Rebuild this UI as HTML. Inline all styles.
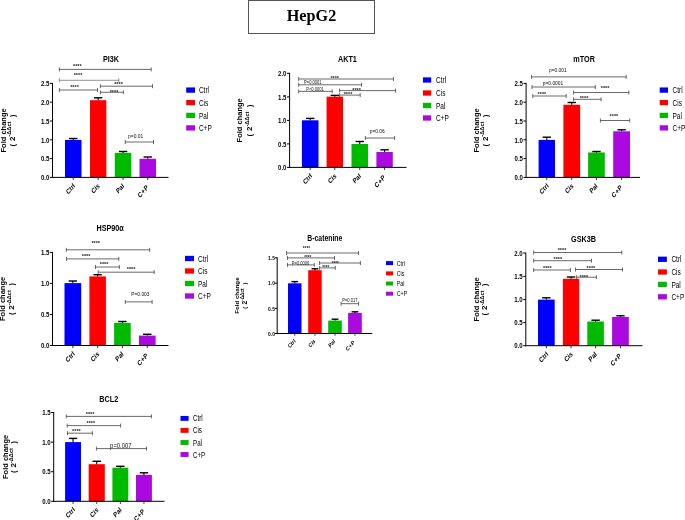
<!DOCTYPE html>
<html><head><meta charset="utf-8"><title>HepG2</title>
<style>
html,body{margin:0;padding:0;background:#fff;}
body{width:685px;height:520px;overflow:hidden;position:relative;font-family:"Liberation Sans",sans-serif;}
#hd{position:absolute;left:248px;top:0px;width:127px;height:34px;border:1px solid #555;box-sizing:border-box;will-change:transform;
 font-family:"Liberation Serif",serif;font-weight:bold;font-size:16.2px;text-align:center;line-height:30.5px;color:#000;}
svg{position:absolute;left:0;top:0;will-change:transform;}
svg text{font-family:"Liberation Sans",sans-serif;}
</style></head><body>
<div id="hd">HepG2</div>
<svg width="685" height="520" viewBox="0 0 685 520">
<rect x="65" y="139.9" width="16.5" height="37.5" fill="#0000ff"/>
<rect x="90" y="100.2" width="16.3" height="77.2" fill="#ff0000"/>
<rect x="114.8" y="152.9" width="16.5" height="24.5" fill="#00ba00"/>
<rect x="139.5" y="158.8" width="16.5" height="18.6" fill="#aa0ae0"/>
<path d="M73.25 139.9V138.5" stroke="#000" stroke-width="1.1" fill="none"/><path d="M69.05 138.5H77.45" stroke="#000" stroke-width="1.4" fill="none"/>
<path d="M98.15 100.2V97.8" stroke="#000" stroke-width="1.1" fill="none"/><path d="M93.95 97.8H102.35" stroke="#000" stroke-width="1.4" fill="none"/>
<path d="M123.05 152.9V151.5" stroke="#000" stroke-width="1.1" fill="none"/><path d="M118.85 151.5H127.25" stroke="#000" stroke-width="1.4" fill="none"/>
<path d="M147.75 158.8V157" stroke="#000" stroke-width="1.1" fill="none"/><path d="M143.55 157H151.95" stroke="#000" stroke-width="1.4" fill="none"/>
<path d="M52.5 83.4V177.4M52.5 177.4H168" stroke="#000" stroke-width="1" fill="none" stroke-linecap="square"/>
<path d="M49.9 83.4H52.5" stroke="#000" stroke-width="1"/>
<text transform="translate(49.4 86.14) scale(0.8 1)" font-size="7.6" font-weight="bold" text-anchor="end" fill="#000">2.5</text>
<path d="M49.9 102.2H52.5" stroke="#000" stroke-width="1"/>
<text transform="translate(49.4 104.94) scale(0.8 1)" font-size="7.6" font-weight="bold" text-anchor="end" fill="#000">2.0</text>
<path d="M49.9 121H52.5" stroke="#000" stroke-width="1"/>
<text transform="translate(49.4 123.74) scale(0.8 1)" font-size="7.6" font-weight="bold" text-anchor="end" fill="#000">1.5</text>
<path d="M49.9 139.8H52.5" stroke="#000" stroke-width="1"/>
<text transform="translate(49.4 142.54) scale(0.8 1)" font-size="7.6" font-weight="bold" text-anchor="end" fill="#000">1.0</text>
<path d="M49.9 158.6H52.5" stroke="#000" stroke-width="1"/>
<text transform="translate(49.4 161.34) scale(0.8 1)" font-size="7.6" font-weight="bold" text-anchor="end" fill="#000">0.5</text>
<path d="M49.9 177.4H52.5" stroke="#000" stroke-width="1"/>
<text transform="translate(49.4 180.14) scale(0.8 1)" font-size="7.6" font-weight="bold" text-anchor="end" fill="#000">0.0</text>
<path d="M73.25 177.4V180" stroke="#000" stroke-width="0.8"/>
<text transform="translate(75.55 186.3) scale(0.82 1) rotate(-43)" font-size="7.1" font-weight="bold" text-anchor="end">Ctrl</text>
<path d="M98.15 177.4V180" stroke="#000" stroke-width="0.8"/>
<text transform="translate(100.15 186.5) scale(0.82 1) rotate(-43)" font-size="7.1" font-weight="bold" text-anchor="end">Cis</text>
<path d="M123.05 177.4V180" stroke="#000" stroke-width="0.8"/>
<text transform="translate(124.65 186.6) scale(0.82 1) rotate(-43)" font-size="7.1" font-weight="bold" text-anchor="end">Pal</text>
<path d="M147.75 177.4V180" stroke="#000" stroke-width="0.8"/>
<text transform="translate(149.05 187.9) scale(0.82 1) rotate(-43)" font-size="7.1" font-weight="bold" text-anchor="end" letter-spacing="0.35">C+P</text>
<text transform="translate(111 61.95) scale(0.78 1)" font-size="9.3" font-weight="bold" text-anchor="middle" fill="#000">PI3K</text>
<text transform="translate(5.7 130.4) rotate(-90)" font-size="7.5" font-weight="bold" text-anchor="middle" fill="#000">Fold change</text>
<text transform="translate(14.6 130.4) rotate(-90)" font-size="7" font-weight="bold" text-anchor="middle" fill="#000">( <tspan font-size="8" dx="0.8">2</tspan><tspan font-size="5.7" dy="-3.3">-ΔΔct</tspan><tspan dy="3.3" dx="4.6">)</tspan></text>
<path d="M59.4 69.4H151.2M59.4 67.4V71.4M151.2 67.4V71.4" stroke="#444" stroke-width="0.8" fill="none"/>
<text transform="translate(77.3 68.35) scale(0.95 1)" font-size="5.8" font-weight="bold" text-anchor="middle" fill="#222">****</text>
<path d="M59.4 80.3H118.8M59.4 78.3V82.3M118.8 78.3V82.3" stroke="#777" stroke-width="0.8" fill="none"/>
<text transform="translate(78 77.05) scale(0.95 1)" font-size="5.8" font-weight="bold" text-anchor="middle" fill="#222">****</text>
<path d="M59.4 90H97.5M59.4 88V92M97.5 88V92" stroke="#444" stroke-width="0.8" fill="none"/>
<text transform="translate(74.5 88.55) scale(0.95 1)" font-size="5.8" font-weight="bold" text-anchor="middle" fill="#222">****</text>
<path d="M100.4 86.2H152.5M100.4 84.2V88.2M152.5 84.2V88.2" stroke="#444" stroke-width="0.8" fill="none"/>
<text transform="translate(118.5 86.45) scale(0.95 1)" font-size="5.8" font-weight="bold" text-anchor="middle" fill="#222">****</text>
<path d="M100.4 92.3H123.4M100.4 90.3V94.3M123.4 90.3V94.3" stroke="#444" stroke-width="0.8" fill="none"/>
<text transform="translate(114 93.85) scale(0.95 1)" font-size="5.8" font-weight="bold" text-anchor="middle" fill="#222">****</text>
<path d="M125.3 142H153.5M125.3 140V144M153.5 140V144" stroke="#444" stroke-width="0.8" fill="none"/>
<text transform="translate(135.6 138.09) scale(0.84 1)" font-size="5.8" font-weight="normal" text-anchor="middle" fill="#111">p=0.01</text>
<rect x="186.2" y="87.45" width="8.8" height="5.3" fill="#0000ff"/>
<text transform="translate(198.9 93.27) scale(0.74 1)" font-size="8.8" font-weight="normal" text-anchor="start" fill="#000">Ctrl</text>
<rect x="186.2" y="99.95" width="8.8" height="5.3" fill="#ff0000"/>
<text transform="translate(198.9 105.77) scale(0.74 1)" font-size="8.8" font-weight="normal" text-anchor="start" fill="#000">Cis</text>
<rect x="186.2" y="112.75" width="8.8" height="5.3" fill="#00ba00"/>
<text transform="translate(198.9 118.57) scale(0.74 1)" font-size="8.8" font-weight="normal" text-anchor="start" fill="#000">Pal</text>
<rect x="186.2" y="125.25" width="8.8" height="5.3" fill="#aa0ae0"/>
<text transform="translate(198.9 131.07) scale(0.74 1)" font-size="8.8" font-weight="normal" text-anchor="start" fill="#000">C+P</text>
<rect x="301.9" y="120.3" width="16.6" height="47.1" fill="#0000ff"/>
<rect x="326.6" y="96.7" width="16.4" height="70.7" fill="#ff0000"/>
<rect x="351.5" y="144" width="16.5" height="23.4" fill="#00ba00"/>
<rect x="376.4" y="152" width="16.4" height="15.4" fill="#aa0ae0"/>
<path d="M310.2 120.3V118.4" stroke="#000" stroke-width="1.1" fill="none"/><path d="M306 118.4H314.4" stroke="#000" stroke-width="1.4" fill="none"/>
<path d="M334.8 96.7V95.4" stroke="#000" stroke-width="1.1" fill="none"/><path d="M330.6 95.4H339" stroke="#000" stroke-width="1.4" fill="none"/>
<path d="M359.75 144V141.5" stroke="#000" stroke-width="1.1" fill="none"/><path d="M355.55 141.5H363.95" stroke="#000" stroke-width="1.4" fill="none"/>
<path d="M384.6 152V149.8" stroke="#000" stroke-width="1.1" fill="none"/><path d="M380.4 149.8H388.8" stroke="#000" stroke-width="1.4" fill="none"/>
<path d="M289.6 73.3V167.4M289.6 167.4H406" stroke="#000" stroke-width="1" fill="none" stroke-linecap="square"/>
<path d="M287 73.3H289.6" stroke="#000" stroke-width="1"/>
<text transform="translate(286.5 76.04) scale(0.8 1)" font-size="7.6" font-weight="bold" text-anchor="end" fill="#000">2.0</text>
<path d="M287 96.9H289.6" stroke="#000" stroke-width="1"/>
<text transform="translate(286.5 99.64) scale(0.8 1)" font-size="7.6" font-weight="bold" text-anchor="end" fill="#000">1.5</text>
<path d="M287 120.4H289.6" stroke="#000" stroke-width="1"/>
<text transform="translate(286.5 123.14) scale(0.8 1)" font-size="7.6" font-weight="bold" text-anchor="end" fill="#000">1.0</text>
<path d="M287 143.9H289.6" stroke="#000" stroke-width="1"/>
<text transform="translate(286.5 146.64) scale(0.8 1)" font-size="7.6" font-weight="bold" text-anchor="end" fill="#000">0.5</text>
<path d="M287 167.4H289.6" stroke="#000" stroke-width="1"/>
<text transform="translate(286.5 170.14) scale(0.8 1)" font-size="7.6" font-weight="bold" text-anchor="end" fill="#000">0.0</text>
<path d="M310.2 167.4V170" stroke="#000" stroke-width="0.8"/>
<text transform="translate(312.5 176.3) scale(0.82 1) rotate(-43)" font-size="7.1" font-weight="bold" text-anchor="end">Ctrl</text>
<path d="M334.8 167.4V170" stroke="#000" stroke-width="0.8"/>
<text transform="translate(336.8 176.5) scale(0.82 1) rotate(-43)" font-size="7.1" font-weight="bold" text-anchor="end">Cis</text>
<path d="M359.75 167.4V170" stroke="#000" stroke-width="0.8"/>
<text transform="translate(361.35 176.6) scale(0.82 1) rotate(-43)" font-size="7.1" font-weight="bold" text-anchor="end">Pal</text>
<path d="M384.6 167.4V170" stroke="#000" stroke-width="0.8"/>
<text transform="translate(385.9 177.9) scale(0.82 1) rotate(-43)" font-size="7.1" font-weight="bold" text-anchor="end" letter-spacing="0.35">C+P</text>
<text transform="translate(347.4 61.95) scale(0.78 1)" font-size="9.3" font-weight="bold" text-anchor="middle" fill="#000">AKT1</text>
<text transform="translate(241.9 120.35) rotate(-90)" font-size="7.5" font-weight="bold" text-anchor="middle" fill="#000">Fold change</text>
<text transform="translate(251.8 120.35) rotate(-90)" font-size="7" font-weight="bold" text-anchor="middle" fill="#000">( <tspan font-size="8" dx="0.8">2</tspan><tspan font-size="5.7" dy="-3.3">-ΔΔct</tspan><tspan dy="3.3" dx="4.6">)</tspan></text>
<path d="M298.7 79H393.5M298.7 77V81M393.5 77V81" stroke="#444" stroke-width="0.8" fill="none"/>
<text transform="translate(334.7 80.25) scale(0.95 1)" font-size="5.8" font-weight="bold" text-anchor="middle" fill="#222">****</text>
<path d="M298.7 84.8H361.6M298.7 82.8V86.8M361.6 82.8V86.8" stroke="#444" stroke-width="0.8" fill="none"/>
<text transform="translate(312.8 84.37) scale(0.78 1)" font-size="5.2" font-weight="normal" text-anchor="middle" fill="#111">P=0.0001</text>
<path d="M298.7 91.4H332.2M298.7 89.4V93.4M332.2 89.4V93.4" stroke="#444" stroke-width="0.8" fill="none"/>
<text transform="translate(315 91.37) scale(0.78 1)" font-size="5.2" font-weight="normal" text-anchor="middle" fill="#111">P&lt;0.0001</text>
<path d="M339.6 90.6H395.6M339.6 88.6V92.6M395.6 88.6V92.6" stroke="#444" stroke-width="0.8" fill="none"/>
<text transform="translate(356.6 91.85) scale(0.95 1)" font-size="5.8" font-weight="bold" text-anchor="middle" fill="#222">****</text>
<path d="M339.6 95.1H360.2M339.6 93.1V97.1M360.2 93.1V97.1" stroke="#444" stroke-width="0.8" fill="none"/>
<text transform="translate(348 96.45) scale(0.95 1)" font-size="5.8" font-weight="bold" text-anchor="middle" fill="#222">****</text>
<path d="M365.3 138H394.6M365.3 136V140M394.6 136V140" stroke="#444" stroke-width="0.8" fill="none"/>
<text transform="translate(377.2 132.59) scale(0.84 1)" font-size="5.8" font-weight="normal" text-anchor="middle" fill="#111">p=0.06</text>
<rect x="423" y="77.35" width="8.2" height="5.3" fill="#0000ff"/>
<text transform="translate(436 83.17) scale(0.74 1)" font-size="8.8" font-weight="normal" text-anchor="start" fill="#000">Ctrl</text>
<rect x="423" y="90.35" width="8.2" height="5.3" fill="#ff0000"/>
<text transform="translate(436 96.17) scale(0.74 1)" font-size="8.8" font-weight="normal" text-anchor="start" fill="#000">Cis</text>
<rect x="423" y="102.85" width="8.2" height="5.3" fill="#00ba00"/>
<text transform="translate(436 108.67) scale(0.74 1)" font-size="8.8" font-weight="normal" text-anchor="start" fill="#000">Pal</text>
<rect x="423" y="115.35" width="8.2" height="5.3" fill="#aa0ae0"/>
<text transform="translate(436 121.17) scale(0.74 1)" font-size="8.8" font-weight="normal" text-anchor="start" fill="#000">C+P</text>
<rect x="538.6" y="139.9" width="16.4" height="37.5" fill="#0000ff"/>
<rect x="563.4" y="104.8" width="16.7" height="72.6" fill="#ff0000"/>
<rect x="588.1" y="152.5" width="16.7" height="24.9" fill="#00ba00"/>
<rect x="613.2" y="131.3" width="16.8" height="46.1" fill="#aa0ae0"/>
<path d="M546.8 139.9V137.2" stroke="#000" stroke-width="1.1" fill="none"/><path d="M542.6 137.2H551" stroke="#000" stroke-width="1.4" fill="none"/>
<path d="M571.75 104.8V102.5" stroke="#000" stroke-width="1.1" fill="none"/><path d="M567.55 102.5H575.95" stroke="#000" stroke-width="1.4" fill="none"/>
<path d="M596.45 152.5V151.5" stroke="#000" stroke-width="1.1" fill="none"/><path d="M592.25 151.5H600.65" stroke="#000" stroke-width="1.4" fill="none"/>
<path d="M621.6 131.3V129.8" stroke="#000" stroke-width="1.1" fill="none"/><path d="M617.4 129.8H625.8" stroke="#000" stroke-width="1.4" fill="none"/>
<path d="M526.1 83.4V177.4M526.1 177.4H639.5" stroke="#000" stroke-width="1" fill="none" stroke-linecap="square"/>
<path d="M523.5 83.4H526.1" stroke="#000" stroke-width="1"/>
<text transform="translate(523 86.14) scale(0.8 1)" font-size="7.6" font-weight="bold" text-anchor="end" fill="#000">2.5</text>
<path d="M523.5 102.2H526.1" stroke="#000" stroke-width="1"/>
<text transform="translate(523 104.94) scale(0.8 1)" font-size="7.6" font-weight="bold" text-anchor="end" fill="#000">2.0</text>
<path d="M523.5 121H526.1" stroke="#000" stroke-width="1"/>
<text transform="translate(523 123.74) scale(0.8 1)" font-size="7.6" font-weight="bold" text-anchor="end" fill="#000">1.5</text>
<path d="M523.5 139.8H526.1" stroke="#000" stroke-width="1"/>
<text transform="translate(523 142.54) scale(0.8 1)" font-size="7.6" font-weight="bold" text-anchor="end" fill="#000">1.0</text>
<path d="M523.5 158.6H526.1" stroke="#000" stroke-width="1"/>
<text transform="translate(523 161.34) scale(0.8 1)" font-size="7.6" font-weight="bold" text-anchor="end" fill="#000">0.5</text>
<path d="M523.5 177.4H526.1" stroke="#000" stroke-width="1"/>
<text transform="translate(523 180.14) scale(0.8 1)" font-size="7.6" font-weight="bold" text-anchor="end" fill="#000">0.0</text>
<path d="M546.8 177.4V180" stroke="#000" stroke-width="0.8"/>
<text transform="translate(549.1 186.3) scale(0.82 1) rotate(-43)" font-size="7.1" font-weight="bold" text-anchor="end">Ctrl</text>
<path d="M571.75 177.4V180" stroke="#000" stroke-width="0.8"/>
<text transform="translate(573.75 186.5) scale(0.82 1) rotate(-43)" font-size="7.1" font-weight="bold" text-anchor="end">Cis</text>
<path d="M596.45 177.4V180" stroke="#000" stroke-width="0.8"/>
<text transform="translate(598.05 186.6) scale(0.82 1) rotate(-43)" font-size="7.1" font-weight="bold" text-anchor="end">Pal</text>
<path d="M621.6 177.4V180" stroke="#000" stroke-width="0.8"/>
<text transform="translate(622.9 187.9) scale(0.82 1) rotate(-43)" font-size="7.1" font-weight="bold" text-anchor="end" letter-spacing="0.35">C+P</text>
<text transform="translate(584.1 61.95) scale(0.78 1)" font-size="9.3" font-weight="bold" text-anchor="middle" fill="#000">mTOR</text>
<text transform="translate(478.9 130.4) rotate(-90)" font-size="7.5" font-weight="bold" text-anchor="middle" fill="#000">Fold change</text>
<text transform="translate(487.5 130.4) rotate(-90)" font-size="7" font-weight="bold" text-anchor="middle" fill="#000">( <tspan font-size="8" dx="0.8">2</tspan><tspan font-size="5.7" dy="-3.3">-ΔΔct</tspan><tspan dy="3.3" dx="4.6">)</tspan></text>
<path d="M531.5 76.9H626.2M531.5 74.9V78.9M626.2 74.9V78.9" stroke="#444" stroke-width="0.8" fill="none"/>
<text transform="translate(557.8 71.99) scale(0.84 1)" font-size="5.8" font-weight="normal" text-anchor="middle" fill="#111">p=0.001</text>
<path d="M532 87H595.3M532 85V89M595.3 85V89" stroke="#444" stroke-width="0.8" fill="none"/>
<text transform="translate(553 84.59) scale(0.84 1)" font-size="5.8" font-weight="normal" text-anchor="middle" fill="#111">p=0.0001</text>
<path d="M532.8 96H566.2M532.8 94V98M566.2 94V98" stroke="#444" stroke-width="0.8" fill="none"/>
<text transform="translate(541.9 96.45) scale(0.95 1)" font-size="5.8" font-weight="bold" text-anchor="middle" fill="#222">****</text>
<path d="M573.6 92.5H628.8M573.6 90.5V94.5M628.8 90.5V94.5" stroke="#444" stroke-width="0.8" fill="none"/>
<text transform="translate(605.1 89.95) scale(0.95 1)" font-size="5.8" font-weight="bold" text-anchor="middle" fill="#222">****</text>
<path d="M573.6 99.3H601.1M573.6 97.3V101.3M601.1 97.3V101.3" stroke="#444" stroke-width="0.8" fill="none"/>
<text transform="translate(584 100.25) scale(0.95 1)" font-size="5.8" font-weight="bold" text-anchor="middle" fill="#222">****</text>
<path d="M600.4 120.5H629.7M600.4 118.5V122.5M629.7 118.5V122.5" stroke="#444" stroke-width="0.8" fill="none"/>
<text transform="translate(613.9 118.35) scale(0.95 1)" font-size="5.8" font-weight="bold" text-anchor="middle" fill="#222">****</text>
<rect x="659.7" y="87.45" width="8.3" height="5.3" fill="#0000ff"/>
<text transform="translate(672.5 93.27) scale(0.74 1)" font-size="8.8" font-weight="normal" text-anchor="start" fill="#000">Ctrl</text>
<rect x="659.7" y="99.95" width="8.3" height="5.3" fill="#ff0000"/>
<text transform="translate(672.5 105.77) scale(0.74 1)" font-size="8.8" font-weight="normal" text-anchor="start" fill="#000">Cis</text>
<rect x="659.7" y="112.75" width="8.3" height="5.3" fill="#00ba00"/>
<text transform="translate(672.5 118.57) scale(0.74 1)" font-size="8.8" font-weight="normal" text-anchor="start" fill="#000">Pal</text>
<rect x="659.7" y="125.25" width="8.3" height="5.3" fill="#aa0ae0"/>
<text transform="translate(672.5 131.07) scale(0.74 1)" font-size="8.8" font-weight="normal" text-anchor="start" fill="#000">C+P</text>
<rect x="64.5" y="283.1" width="16.7" height="62.4" fill="#0000ff"/>
<rect x="89.4" y="276.4" width="16.5" height="69.1" fill="#ff0000"/>
<rect x="114.1" y="322.9" width="16.6" height="22.6" fill="#00ba00"/>
<rect x="139" y="335.6" width="16.6" height="9.9" fill="#aa0ae0"/>
<path d="M72.85 283.1V281" stroke="#000" stroke-width="1.1" fill="none"/><path d="M68.65 281H77.05" stroke="#000" stroke-width="1.4" fill="none"/>
<path d="M97.65 276.4V274.7" stroke="#000" stroke-width="1.1" fill="none"/><path d="M93.45 274.7H101.85" stroke="#000" stroke-width="1.4" fill="none"/>
<path d="M122.4 322.9V321.5" stroke="#000" stroke-width="1.1" fill="none"/><path d="M118.2 321.5H126.6" stroke="#000" stroke-width="1.4" fill="none"/>
<path d="M147.3 335.6V334.3" stroke="#000" stroke-width="1.1" fill="none"/><path d="M143.1 334.3H151.5" stroke="#000" stroke-width="1.4" fill="none"/>
<path d="M52.5 252.4V345.5M52.5 345.5H168" stroke="#000" stroke-width="1" fill="none" stroke-linecap="square"/>
<path d="M49.9 252.4H52.5" stroke="#000" stroke-width="1"/>
<text transform="translate(49.4 255.14) scale(0.8 1)" font-size="7.6" font-weight="bold" text-anchor="end" fill="#000">1.5</text>
<path d="M49.9 283.4H52.5" stroke="#000" stroke-width="1"/>
<text transform="translate(49.4 286.14) scale(0.8 1)" font-size="7.6" font-weight="bold" text-anchor="end" fill="#000">1.0</text>
<path d="M49.9 314.5H52.5" stroke="#000" stroke-width="1"/>
<text transform="translate(49.4 317.24) scale(0.8 1)" font-size="7.6" font-weight="bold" text-anchor="end" fill="#000">0.5</text>
<path d="M49.9 345.5H52.5" stroke="#000" stroke-width="1"/>
<text transform="translate(49.4 348.24) scale(0.8 1)" font-size="7.6" font-weight="bold" text-anchor="end" fill="#000">0.0</text>
<path d="M72.85 345.5V348.1" stroke="#000" stroke-width="0.8"/>
<text transform="translate(75.15 354.4) scale(0.82 1) rotate(-43)" font-size="7.1" font-weight="bold" text-anchor="end">Ctrl</text>
<path d="M97.65 345.5V348.1" stroke="#000" stroke-width="0.8"/>
<text transform="translate(99.65 354.6) scale(0.82 1) rotate(-43)" font-size="7.1" font-weight="bold" text-anchor="end">Cis</text>
<path d="M122.4 345.5V348.1" stroke="#000" stroke-width="0.8"/>
<text transform="translate(124 354.7) scale(0.82 1) rotate(-43)" font-size="7.1" font-weight="bold" text-anchor="end">Pal</text>
<path d="M147.3 345.5V348.1" stroke="#000" stroke-width="0.8"/>
<text transform="translate(148.6 356) scale(0.82 1) rotate(-43)" font-size="7.1" font-weight="bold" text-anchor="end" letter-spacing="0.35">C+P</text>
<text transform="translate(110.1 231.25) scale(0.78 1)" font-size="9.3" font-weight="bold" text-anchor="middle" fill="#000">HSP90α</text>
<text transform="translate(5 298.95) rotate(-90)" font-size="7.5" font-weight="bold" text-anchor="middle" fill="#000">Fold change</text>
<text transform="translate(14.1 298.95) rotate(-90)" font-size="7" font-weight="bold" text-anchor="middle" fill="#000">( <tspan font-size="8" dx="0.8">2</tspan><tspan font-size="5.7" dy="-3.3">-ΔΔct</tspan><tspan dy="3.3" dx="4.6">)</tspan></text>
<path d="M66.3 249.8H149.7M66.3 247.8V251.8M149.7 247.8V251.8" stroke="#444" stroke-width="0.8" fill="none"/>
<text transform="translate(95.7 245.15) scale(0.95 1)" font-size="5.8" font-weight="bold" text-anchor="middle" fill="#222">****</text>
<path d="M66.5 258.9H118.8M66.5 256.9V260.9M118.8 256.9V260.9" stroke="#444" stroke-width="0.8" fill="none"/>
<text transform="translate(86.1 257.95) scale(0.95 1)" font-size="5.8" font-weight="bold" text-anchor="middle" fill="#222">****</text>
<path d="M95.5 267H119.4M95.5 265V269M119.4 265V269" stroke="#444" stroke-width="0.8" fill="none"/>
<text transform="translate(104.1 266.15) scale(0.95 1)" font-size="5.8" font-weight="bold" text-anchor="middle" fill="#222">****</text>
<path d="M98.2 272.2H154.2M98.2 270.2V274.2M154.2 270.2V274.2" stroke="#444" stroke-width="0.8" fill="none"/>
<text transform="translate(131.1 270.95) scale(0.95 1)" font-size="5.8" font-weight="bold" text-anchor="middle" fill="#222">****</text>
<path d="M125.3 301.9H152.1M125.3 299.9V303.9M152.1 299.9V303.9" stroke="#444" stroke-width="0.8" fill="none"/>
<text transform="translate(140.4 295.99) scale(0.84 1)" font-size="5.8" font-weight="normal" text-anchor="middle" fill="#111">P=0.003</text>
<rect x="185" y="255.85" width="9" height="5.3" fill="#0000ff"/>
<text transform="translate(198 261.67) scale(0.74 1)" font-size="8.8" font-weight="normal" text-anchor="start" fill="#000">Ctrl</text>
<rect x="185" y="268.35" width="9" height="5.3" fill="#ff0000"/>
<text transform="translate(198 274.17) scale(0.74 1)" font-size="8.8" font-weight="normal" text-anchor="start" fill="#000">Cis</text>
<rect x="185" y="280.85" width="9" height="5.3" fill="#00ba00"/>
<text transform="translate(198 286.67) scale(0.74 1)" font-size="8.8" font-weight="normal" text-anchor="start" fill="#000">Pal</text>
<rect x="185" y="293.35" width="9" height="5.3" fill="#aa0ae0"/>
<text transform="translate(198 299.17) scale(0.74 1)" font-size="8.8" font-weight="normal" text-anchor="start" fill="#000">C+P</text>
<rect x="288" y="283.3" width="13.5" height="50.2" fill="#0000ff"/>
<rect x="308.2" y="270.2" width="13.5" height="63.3" fill="#ff0000"/>
<rect x="328.2" y="320.6" width="13.6" height="12.9" fill="#00ba00"/>
<rect x="348.1" y="312.9" width="13.7" height="20.6" fill="#aa0ae0"/>
<path d="M294.75 283.3V281.6" stroke="#000" stroke-width="1.1" fill="none"/><path d="M291.35 281.6H298.15" stroke="#000" stroke-width="1.4" fill="none"/>
<path d="M314.95 270.2V268.8" stroke="#000" stroke-width="1.1" fill="none"/><path d="M311.55 268.8H318.35" stroke="#000" stroke-width="1.4" fill="none"/>
<path d="M335 320.6V319.2" stroke="#000" stroke-width="1.1" fill="none"/><path d="M331.6 319.2H338.4" stroke="#000" stroke-width="1.4" fill="none"/>
<path d="M354.95 312.9V311.8" stroke="#000" stroke-width="1.1" fill="none"/><path d="M351.55 311.8H358.35" stroke="#000" stroke-width="1.4" fill="none"/>
<path d="M277.2 257.8V333.5M277.2 333.5H371.8" stroke="#000" stroke-width="1" fill="none" stroke-linecap="square"/>
<path d="M275 257.8H277.2" stroke="#000" stroke-width="1"/>
<text transform="translate(275 259.92) scale(0.84 1)" font-size="5.9" font-weight="bold" text-anchor="end" fill="#000">1.5</text>
<path d="M275 283.2H277.2" stroke="#000" stroke-width="1"/>
<text transform="translate(275 285.32) scale(0.84 1)" font-size="5.9" font-weight="bold" text-anchor="end" fill="#000">1.0</text>
<path d="M275 308.4H277.2" stroke="#000" stroke-width="1"/>
<text transform="translate(275 310.52) scale(0.84 1)" font-size="5.9" font-weight="bold" text-anchor="end" fill="#000">0.5</text>
<path d="M275 333.5H277.2" stroke="#000" stroke-width="1"/>
<text transform="translate(275 335.62) scale(0.84 1)" font-size="5.9" font-weight="bold" text-anchor="end" fill="#000">0.0</text>
<path d="M294.75 333.5V335.7" stroke="#000" stroke-width="0.8"/>
<text transform="translate(295.91 341.54) scale(0.82 1) rotate(-43)" font-size="6" font-weight="bold" text-anchor="end">Ctrl</text>
<path d="M314.95 333.5V335.7" stroke="#000" stroke-width="0.8"/>
<text transform="translate(315.87 341.7) scale(0.82 1) rotate(-43)" font-size="6" font-weight="bold" text-anchor="end">Cis</text>
<path d="M335 333.5V335.7" stroke="#000" stroke-width="0.8"/>
<text transform="translate(335.6 341.78) scale(0.82 1) rotate(-43)" font-size="6" font-weight="bold" text-anchor="end">Pal</text>
<path d="M354.95 333.5V335.7" stroke="#000" stroke-width="0.8"/>
<text transform="translate(355.31 342.82) scale(0.82 1) rotate(-43)" font-size="6" font-weight="bold" text-anchor="end" letter-spacing="0.35">C+P</text>
<text transform="translate(324.8 240.57) scale(0.78 1)" font-size="8.8" font-weight="bold" text-anchor="middle" fill="#000">B-catenine</text>
<text transform="translate(239.4 295.65) rotate(-90)" font-size="6.2" font-weight="bold" text-anchor="middle" fill="#000">Fold change</text>
<text transform="translate(246.7 295.65) rotate(-90)" font-size="5.8" font-weight="bold" text-anchor="middle" fill="#000">( <tspan font-size="6.63" dx="0.66">2</tspan><tspan font-size="4.72" dy="-2.73">-ΔΔct</tspan><tspan dy="2.73" dx="3.81">)</tspan></text>
<path d="M286.6 253H358.6M286.6 251V255M358.6 251V255" stroke="#444" stroke-width="0.8" fill="none"/>
<text transform="translate(306.4 249.79) scale(0.95 1)" font-size="4.8" font-weight="bold" text-anchor="middle" fill="#222">****</text>
<path d="M287.5 257.9H334.5M287.5 255.9V259.9M334.5 255.9V259.9" stroke="#444" stroke-width="0.8" fill="none"/>
<text transform="translate(307.8 259.39) scale(0.95 1)" font-size="4.8" font-weight="bold" text-anchor="middle" fill="#222">****</text>
<path d="M287.5 264.9H314.3M287.5 262.9V266.9M314.3 262.9V266.9" stroke="#444" stroke-width="0.8" fill="none"/>
<text transform="translate(300.6 264.67) scale(0.78 1)" font-size="5.2" font-weight="normal" text-anchor="middle" fill="#111">P=0.0006</text>
<path d="M319.6 263H360.4M319.6 261V265M360.4 261V265" stroke="#444" stroke-width="0.8" fill="none"/>
<text transform="translate(335.3 264.69) scale(0.95 1)" font-size="4.8" font-weight="bold" text-anchor="middle" fill="#222">****</text>
<path d="M319.6 267.9H335.3M319.6 265.9V269.9M335.3 265.9V269.9" stroke="#444" stroke-width="0.8" fill="none"/>
<text transform="translate(325.7 269.39) scale(0.95 1)" font-size="4.8" font-weight="bold" text-anchor="middle" fill="#222">****</text>
<path d="M341.1 303.7H358.5M341.1 301.7V305.7M358.5 301.7V305.7" stroke="#444" stroke-width="0.8" fill="none"/>
<text transform="translate(349.9 302.07) scale(0.78 1)" font-size="5.2" font-weight="normal" text-anchor="middle" fill="#111">P=0.017</text>
<rect x="386" y="261.1" width="7.1" height="4" fill="#0000ff"/>
<text transform="translate(396.8 265.66) scale(0.74 1)" font-size="7.1" font-weight="normal" text-anchor="start" fill="#000">Ctrl</text>
<rect x="386" y="271.4" width="7.1" height="4" fill="#ff0000"/>
<text transform="translate(396.8 275.96) scale(0.74 1)" font-size="7.1" font-weight="normal" text-anchor="start" fill="#000">Cis</text>
<rect x="386" y="281.5" width="7.1" height="4" fill="#00ba00"/>
<text transform="translate(396.8 286.06) scale(0.74 1)" font-size="7.1" font-weight="normal" text-anchor="start" fill="#000">Pal</text>
<rect x="386" y="291.7" width="7.1" height="4" fill="#aa0ae0"/>
<text transform="translate(396.8 296.26) scale(0.74 1)" font-size="7.1" font-weight="normal" text-anchor="start" fill="#000">C+P</text>
<rect x="538" y="299.6" width="16.7" height="46.1" fill="#0000ff"/>
<rect x="562.9" y="278.8" width="16.3" height="66.9" fill="#ff0000"/>
<rect x="587.3" y="321.5" width="16.6" height="24.2" fill="#00ba00"/>
<rect x="612.1" y="317" width="16.7" height="28.7" fill="#aa0ae0"/>
<path d="M546.35 299.6V297.8" stroke="#000" stroke-width="1.1" fill="none"/><path d="M542.15 297.8H550.55" stroke="#000" stroke-width="1.4" fill="none"/>
<path d="M571.05 278.8V277" stroke="#000" stroke-width="1.1" fill="none"/><path d="M566.85 277H575.25" stroke="#000" stroke-width="1.4" fill="none"/>
<path d="M595.6 321.5V320.2" stroke="#000" stroke-width="1.1" fill="none"/><path d="M591.4 320.2H599.8" stroke="#000" stroke-width="1.4" fill="none"/>
<path d="M620.45 317V315.8" stroke="#000" stroke-width="1.1" fill="none"/><path d="M616.25 315.8H624.65" stroke="#000" stroke-width="1.4" fill="none"/>
<path d="M525.8 253V345.7M525.8 345.7H642" stroke="#000" stroke-width="1" fill="none" stroke-linecap="square"/>
<path d="M523.2 253H525.8" stroke="#000" stroke-width="1"/>
<text transform="translate(522.7 255.74) scale(0.8 1)" font-size="7.6" font-weight="bold" text-anchor="end" fill="#000">2.0</text>
<path d="M523.2 276.4H525.8" stroke="#000" stroke-width="1"/>
<text transform="translate(522.7 279.14) scale(0.8 1)" font-size="7.6" font-weight="bold" text-anchor="end" fill="#000">1.5</text>
<path d="M523.2 299.6H525.8" stroke="#000" stroke-width="1"/>
<text transform="translate(522.7 302.34) scale(0.8 1)" font-size="7.6" font-weight="bold" text-anchor="end" fill="#000">1.0</text>
<path d="M523.2 322.6H525.8" stroke="#000" stroke-width="1"/>
<text transform="translate(522.7 325.34) scale(0.8 1)" font-size="7.6" font-weight="bold" text-anchor="end" fill="#000">0.5</text>
<path d="M523.2 345.7H525.8" stroke="#000" stroke-width="1"/>
<text transform="translate(522.7 348.44) scale(0.8 1)" font-size="7.6" font-weight="bold" text-anchor="end" fill="#000">0.0</text>
<path d="M546.35 345.7V348.3" stroke="#000" stroke-width="0.8"/>
<text transform="translate(548.65 354.6) scale(0.82 1) rotate(-43)" font-size="7.1" font-weight="bold" text-anchor="end">Ctrl</text>
<path d="M571.05 345.7V348.3" stroke="#000" stroke-width="0.8"/>
<text transform="translate(573.05 354.8) scale(0.82 1) rotate(-43)" font-size="7.1" font-weight="bold" text-anchor="end">Cis</text>
<path d="M595.6 345.7V348.3" stroke="#000" stroke-width="0.8"/>
<text transform="translate(597.2 354.9) scale(0.82 1) rotate(-43)" font-size="7.1" font-weight="bold" text-anchor="end">Pal</text>
<path d="M620.45 345.7V348.3" stroke="#000" stroke-width="0.8"/>
<text transform="translate(621.75 356.2) scale(0.82 1) rotate(-43)" font-size="7.1" font-weight="bold" text-anchor="end" letter-spacing="0.35">C+P</text>
<text transform="translate(583.6 242.35) scale(0.78 1)" font-size="9.3" font-weight="bold" text-anchor="middle" fill="#000">GSK3B</text>
<text transform="translate(478.7 299.35) rotate(-90)" font-size="7.5" font-weight="bold" text-anchor="middle" fill="#000">Fold change</text>
<text transform="translate(487.4 299.35) rotate(-90)" font-size="7" font-weight="bold" text-anchor="middle" fill="#000">( <tspan font-size="8" dx="0.8">2</tspan><tspan font-size="5.7" dy="-3.3">-ΔΔct</tspan><tspan dy="3.3" dx="4.6">)</tspan></text>
<path d="M533.7 252.5H621.8M533.7 250.5V254.5M621.8 250.5V254.5" stroke="#444" stroke-width="0.8" fill="none"/>
<text transform="translate(562 251.95) scale(0.95 1)" font-size="5.8" font-weight="bold" text-anchor="middle" fill="#222">****</text>
<path d="M533.7 260.7H591.5M533.7 258.7V262.7M591.5 258.7V262.7" stroke="#444" stroke-width="0.8" fill="none"/>
<text transform="translate(557.8 260.65) scale(0.95 1)" font-size="5.8" font-weight="bold" text-anchor="middle" fill="#222">****</text>
<path d="M533.7 270H570.4M533.7 268V272M570.4 268V272" stroke="#444" stroke-width="0.8" fill="none"/>
<text transform="translate(547.3 269.55) scale(0.95 1)" font-size="5.8" font-weight="bold" text-anchor="middle" fill="#222">****</text>
<path d="M575.5 269.5H622.5M575.5 267.5V271.5M622.5 267.5V271.5" stroke="#444" stroke-width="0.8" fill="none"/>
<text transform="translate(590.9 270.25) scale(0.95 1)" font-size="5.8" font-weight="bold" text-anchor="middle" fill="#222">****</text>
<path d="M576.6 277.2H596.4M576.6 275.2V279.2M596.4 275.2V279.2" stroke="#444" stroke-width="0.8" fill="none"/>
<text transform="translate(583.8 278.55) scale(0.95 1)" font-size="5.8" font-weight="bold" text-anchor="middle" fill="#222">****</text>
<rect x="658" y="256.65" width="8.9" height="5.3" fill="#0000ff"/>
<text transform="translate(671.4 262.47) scale(0.74 1)" font-size="8.8" font-weight="normal" text-anchor="start" fill="#000">Ctrl</text>
<rect x="658" y="269.35" width="8.9" height="5.3" fill="#ff0000"/>
<text transform="translate(671.4 275.17) scale(0.74 1)" font-size="8.8" font-weight="normal" text-anchor="start" fill="#000">Cis</text>
<rect x="658" y="281.75" width="8.9" height="5.3" fill="#00ba00"/>
<text transform="translate(671.4 287.57) scale(0.74 1)" font-size="8.8" font-weight="normal" text-anchor="start" fill="#000">Pal</text>
<rect x="658" y="294.15" width="8.9" height="5.3" fill="#aa0ae0"/>
<text transform="translate(671.4 299.97) scale(0.74 1)" font-size="8.8" font-weight="normal" text-anchor="start" fill="#000">C+P</text>
<rect x="65.1" y="442.1" width="15.9" height="59.2" fill="#0000ff"/>
<rect x="88.7" y="464.2" width="16.1" height="37.1" fill="#ff0000"/>
<rect x="112.4" y="467.7" width="15.9" height="33.6" fill="#00ba00"/>
<rect x="136" y="474.9" width="15.9" height="26.4" fill="#aa0ae0"/>
<path d="M73.05 442.1V438.4" stroke="#000" stroke-width="1.1" fill="none"/><path d="M68.85 438.4H77.25" stroke="#000" stroke-width="1.4" fill="none"/>
<path d="M96.75 464.2V461.3" stroke="#000" stroke-width="1.1" fill="none"/><path d="M92.55 461.3H100.95" stroke="#000" stroke-width="1.4" fill="none"/>
<path d="M120.35 467.7V466.3" stroke="#000" stroke-width="1.1" fill="none"/><path d="M116.15 466.3H124.55" stroke="#000" stroke-width="1.4" fill="none"/>
<path d="M143.95 474.9V472.8" stroke="#000" stroke-width="1.1" fill="none"/><path d="M139.75 472.8H148.15" stroke="#000" stroke-width="1.4" fill="none"/>
<path d="M53.7 412.5V501.3M53.7 501.3H164" stroke="#000" stroke-width="1" fill="none" stroke-linecap="square"/>
<path d="M51.1 412.5H53.7" stroke="#000" stroke-width="1"/>
<text transform="translate(50.6 415.24) scale(0.8 1)" font-size="7.6" font-weight="bold" text-anchor="end" fill="#000">1.5</text>
<path d="M51.1 442.1H53.7" stroke="#000" stroke-width="1"/>
<text transform="translate(50.6 444.84) scale(0.8 1)" font-size="7.6" font-weight="bold" text-anchor="end" fill="#000">1.0</text>
<path d="M51.1 471.7H53.7" stroke="#000" stroke-width="1"/>
<text transform="translate(50.6 474.44) scale(0.8 1)" font-size="7.6" font-weight="bold" text-anchor="end" fill="#000">0.5</text>
<path d="M51.1 501.3H53.7" stroke="#000" stroke-width="1"/>
<text transform="translate(50.6 504.04) scale(0.8 1)" font-size="7.6" font-weight="bold" text-anchor="end" fill="#000">0.0</text>
<path d="M73.05 501.3V503.9" stroke="#000" stroke-width="0.8"/>
<text transform="translate(75.35 510.2) scale(0.82 1) rotate(-43)" font-size="7.1" font-weight="bold" text-anchor="end">Ctrl</text>
<path d="M96.75 501.3V503.9" stroke="#000" stroke-width="0.8"/>
<text transform="translate(98.75 510.4) scale(0.82 1) rotate(-43)" font-size="7.1" font-weight="bold" text-anchor="end">Cis</text>
<path d="M120.35 501.3V503.9" stroke="#000" stroke-width="0.8"/>
<text transform="translate(121.95 510.5) scale(0.82 1) rotate(-43)" font-size="7.1" font-weight="bold" text-anchor="end">Pal</text>
<path d="M143.95 501.3V503.9" stroke="#000" stroke-width="0.8"/>
<text transform="translate(145.25 511.8) scale(0.82 1) rotate(-43)" font-size="7.1" font-weight="bold" text-anchor="end" letter-spacing="0.35">C+P</text>
<text transform="translate(108.7 402.05) scale(0.78 1)" font-size="9.3" font-weight="bold" text-anchor="middle" fill="#000">BCL2</text>
<text transform="translate(7.7 456.9) rotate(-90)" font-size="7.5" font-weight="bold" text-anchor="middle" fill="#000">Fold change</text>
<text transform="translate(15.8 456.9) rotate(-90)" font-size="7" font-weight="bold" text-anchor="middle" fill="#000">( <tspan font-size="8" dx="0.8">2</tspan><tspan font-size="5.7" dy="-3.3">-ΔΔct</tspan><tspan dy="3.3" dx="4.6">)</tspan></text>
<path d="M66.3 416.4H151.4M66.3 414.4V418.4M151.4 414.4V418.4" stroke="#444" stroke-width="0.8" fill="none"/>
<text transform="translate(90.1 415.55) scale(0.95 1)" font-size="5.8" font-weight="bold" text-anchor="middle" fill="#222">****</text>
<path d="M67.2 425.6H120.6M67.2 423.6V427.6M120.6 423.6V427.6" stroke="#444" stroke-width="0.8" fill="none"/>
<text transform="translate(90.8 425.05) scale(0.95 1)" font-size="5.8" font-weight="bold" text-anchor="middle" fill="#222">****</text>
<path d="M67.5 433.2H92.4M67.5 431.2V435.2M92.4 431.2V435.2" stroke="#444" stroke-width="0.8" fill="none"/>
<text transform="translate(76.4 432.95) scale(0.95 1)" font-size="5.8" font-weight="bold" text-anchor="middle" fill="#222">****</text>
<path d="M96.4 448.6H146.5M96.4 446.6V450.6M146.5 446.6V450.6" stroke="#444" stroke-width="0.8" fill="none"/>
<text transform="translate(120.8 447.92) scale(0.84 1)" font-size="7" font-weight="normal" text-anchor="middle" fill="#111">p=0.007</text>
<rect x="180.5" y="415.95" width="8.1" height="4.9" fill="#0000ff"/>
<text transform="translate(193 421.42) scale(0.74 1)" font-size="8.4" font-weight="normal" text-anchor="start" fill="#000">Ctrl</text>
<rect x="180.5" y="427.95" width="8.1" height="4.9" fill="#ff0000"/>
<text transform="translate(193 433.42) scale(0.74 1)" font-size="8.4" font-weight="normal" text-anchor="start" fill="#000">Cis</text>
<rect x="180.5" y="440.05" width="8.1" height="4.9" fill="#00ba00"/>
<text transform="translate(193 445.52) scale(0.74 1)" font-size="8.4" font-weight="normal" text-anchor="start" fill="#000">Pal</text>
<rect x="180.5" y="452.05" width="8.1" height="4.9" fill="#aa0ae0"/>
<text transform="translate(193 457.52) scale(0.74 1)" font-size="8.4" font-weight="normal" text-anchor="start" fill="#000">C+P</text>
</svg>
</body></html>
